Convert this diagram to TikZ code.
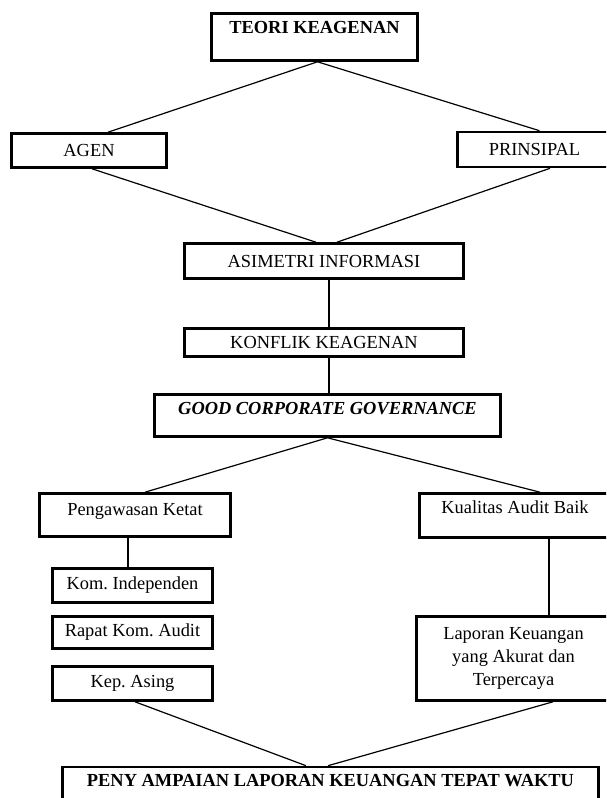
\documentclass[tikz,border=0pt]{standalone}
\usepackage{fontspec}
\setmainfont{Liberation Serif}
\tikzset{
    kotak/.style={draw, rectangle, line width=2.6pt, inner sep=0pt, align=center,
        font=\fontsize{18.4}{23}\selectfont\frenchspacing},
    atas/.style={text height=13pt, text depth=#1},
    atas/.default={15pt},
    garis/.style={line width=1.2pt}
}
\begin{document}
\begin{tikzpicture}[x=1pt, y=-1pt]
    \useasboundingbox (0,0) rectangle (606,798);
    \clip (0,0) rectangle (606,798);
    \node[kotak, atas=20.8pt, minimum width=206, minimum height=47] (teori) at (314.5,37) {\textbf{TEORI KEAGENAN}};
    \node[kotak, minimum width=155, minimum height=34] (agen) at (89,150.5) {AGEN};
    \node[kotak, minimum width=154, minimum height=35] (prinsipal) at (534.5,149.5) {PRINSIPAL};
    \node[kotak, minimum width=279, minimum height=35] (asimetri) at (324,261) {ASIMETRI INFORMASI};
    \node[kotak, minimum width=279, minimum height=28] (konflik) at (324,342.5) {KONFLIK KEAGENAN};
    \node[kotak, atas=15.8pt, minimum width=346, minimum height=42] (gcg) at (327.5,415.5) {\textbf{\textit{GOOD CORPORATE GOVERNANCE}}};
    \node[kotak, atas=12.8pt, minimum width=191, minimum height=43] (awas) at (135,515) {Pengawasan Ketat};
    \node[kotak, atas=17.8pt, minimum width=191, minimum height=44] (audit) at (515,515.5) {Kualitas Audit Baik};
    \node[kotak, minimum width=160, minimum height=34] (komind) at (132.5,585.5) {Kom. Independen};
    \node[kotak, minimum width=160, minimum height=32] (rapat) at (132.5,632.5) {Rapat Kom. Audit};
    \node[kotak, minimum width=160, minimum height=34] (asing) at (132.5,683.5) {Kep. Asing};
    \node[kotak, minimum width=194, minimum height=84] (lapor) at (513.5,658.5) {Laporan Keuangan\\yang Akurat dan\\Terpercaya};
    \node[kotak, atas=24.8pt, minimum width=536, minimum height=50] (tepat) at (330.5,792) {\textbf{PENY AMPAIAN LAPORAN KEUANGAN TEPAT WAKTU}};

    \draw[garis] ([xshift=3pt]teori.south) -- ([xshift=19pt]agen.north);
    \draw[garis] ([xshift=3pt]teori.south) -- ([xshift=5pt]prinsipal.north);
    \draw[garis] ([xshift=3pt]agen.south) -- ([xshift=-8pt]asimetri.north);
    \draw[garis] ([xshift=15.5pt]prinsipal.south) -- ([xshift=13pt]asimetri.north);
    \draw[garis] ([xshift=5pt]asimetri.south) -- ([xshift=5pt]konflik.north);
    \draw[garis] ([xshift=5pt]konflik.south) -- ([xshift=5pt]konflik.south |- gcg.north);
    \draw[garis] (gcg.south) -- ([xshift=10pt]awas.north);
    \draw[garis] (gcg.south) -- ([xshift=25pt]audit.north);
    \draw[garis] ([xshift=-7pt]awas.south) -- ([xshift=-7pt]awas.south |- komind.north);
    \draw[garis] ([xshift=34pt]audit.south) -- ([xshift=34pt]audit.south |- lapor.north);
    \draw[garis] ([xshift=2.5pt]asing.south) -- ([xshift=-24.5pt]tepat.north);
    \draw[garis] ([xshift=39.5pt]lapor.south) -- ([xshift=-2.5pt]tepat.north);
\end{tikzpicture}
\end{document}
